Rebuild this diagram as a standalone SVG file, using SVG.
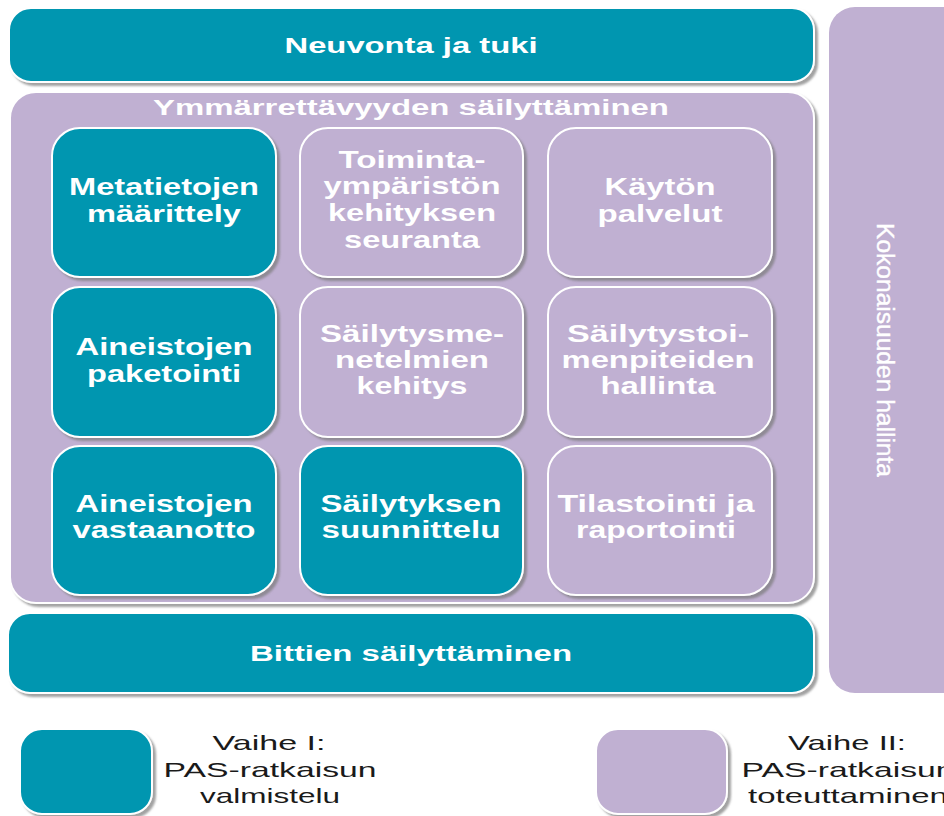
<svg xmlns="http://www.w3.org/2000/svg" width="944" height="816" viewBox="0 0 944 816">
<style>
.teal{fill:#0096B0;stroke:#fff;stroke-width:2}
.purp{fill:#C0B0D2;stroke:#fff;stroke-width:2}
.hd{font-family:"Liberation Sans",Arial,sans-serif;font-weight:bold;font-size:22px;fill:#fff;text-anchor:middle}
.bx{font-family:"Liberation Sans",Arial,sans-serif;font-weight:bold;font-size:24px;fill:#fff;text-anchor:middle}
.side{font-family:"Liberation Sans",Arial,sans-serif;font-size:23px;fill:#fff;stroke:#fff;stroke-width:0.4;text-anchor:middle}
.lg{font-family:"Liberation Sans",Arial,sans-serif;font-size:21px;fill:#1a1a1a;text-anchor:middle}
</style>
<defs>
<filter id="sh" x="-5%" y="-5%" width="115%" height="120%">
<feGaussianBlur in="SourceAlpha" stdDeviation="1.2"/>
<feOffset dx="3" dy="3" result="b"/>
<feFlood flood-color="#7a7a7a" flood-opacity="0.7"/>
<feComposite in2="b" operator="in"/>
<feMerge><feMergeNode/><feMergeNode in="SourceGraphic"/></feMerge>
</filter>
</defs>
<rect width="944" height="816" fill="#fff"/>

<g id="kokonaisuuden-hallinta">
<rect x="829" y="7" width="140" height="686" rx="26" fill="#C0B0D2"/>
<text class="side" transform="translate(877,350) rotate(90)" x="0" y="0" textLength="254" lengthAdjust="spacingAndGlyphs">Kokonaisuuden hallinta</text>
</g>

<g id="neuvonta">
<rect class="teal" filter="url(#sh)" x="9" y="8" width="805" height="74" rx="22"/>
<text class="hd" x="411" y="53" textLength="253" lengthAdjust="spacingAndGlyphs">Neuvonta ja tuki</text>
</g>

<g id="ymmarrettavyys">
<rect class="purp" filter="url(#sh)" x="10" y="92" width="804" height="511" rx="26"/>
<text class="hd" x="411" y="115" textLength="516" lengthAdjust="spacingAndGlyphs">Ymmärrettävyyden säilyttäminen</text>
</g>

<g id="metatietojen">
<rect class="teal" filter="url(#sh)" x="52" y="128" width="224" height="149" rx="28"/>
<text class="bx" x="164" y="195" textLength="190" lengthAdjust="spacingAndGlyphs">Metatietojen</text>
<text class="bx" x="164" y="222" textLength="154" lengthAdjust="spacingAndGlyphs">määrittely</text>
</g>

<g id="toimintaymparisto">
<rect class="purp" filter="url(#sh)" x="300" y="128" width="223" height="149" rx="28"/>
<text class="bx" x="412" y="168" textLength="147" lengthAdjust="spacingAndGlyphs">Toiminta-</text>
<text class="bx" x="412" y="194" textLength="177" lengthAdjust="spacingAndGlyphs">ympäristön</text>
<text class="bx" x="412" y="221" textLength="168" lengthAdjust="spacingAndGlyphs">kehityksen</text>
<text class="bx" x="412" y="248" textLength="136" lengthAdjust="spacingAndGlyphs">seuranta</text>
</g>

<g id="kayton-palvelut">
<rect class="purp" filter="url(#sh)" x="548" y="128" width="224" height="149" rx="28"/>
<text class="bx" x="660" y="195" textLength="111" lengthAdjust="spacingAndGlyphs">Käytön</text>
<text class="bx" x="660" y="222" textLength="125" lengthAdjust="spacingAndGlyphs">palvelut</text>
</g>

<g id="paketointi">
<rect class="teal" filter="url(#sh)" x="52" y="287" width="224" height="150" rx="28"/>
<text class="bx" x="164" y="355" textLength="177" lengthAdjust="spacingAndGlyphs">Aineistojen</text>
<text class="bx" x="164" y="382" textLength="154" lengthAdjust="spacingAndGlyphs">paketointi</text>
</g>

<g id="sailytysmenetelmat">
<rect class="purp" filter="url(#sh)" x="300" y="287" width="223" height="150" rx="28"/>
<text class="bx" x="412" y="342" textLength="184" lengthAdjust="spacingAndGlyphs">Säilytysme-</text>
<text class="bx" x="412" y="368" textLength="154" lengthAdjust="spacingAndGlyphs">netelmien</text>
<text class="bx" x="412" y="394" textLength="111" lengthAdjust="spacingAndGlyphs">kehitys</text>
</g>

<g id="sailytystoimenpiteet">
<rect class="purp" filter="url(#sh)" x="548" y="287" width="224" height="150" rx="28"/>
<text class="bx" x="658" y="342" textLength="182" lengthAdjust="spacingAndGlyphs">Säilytystoi-</text>
<text class="bx" x="658" y="368" textLength="193" lengthAdjust="spacingAndGlyphs">menpiteiden</text>
<text class="bx" x="658" y="394" textLength="115" lengthAdjust="spacingAndGlyphs">hallinta</text>
</g>

<g id="vastaanotto">
<rect class="teal" filter="url(#sh)" x="52" y="446" width="224" height="149" rx="28"/>
<text class="bx" x="164" y="512" textLength="177" lengthAdjust="spacingAndGlyphs">Aineistojen</text>
<text class="bx" x="164" y="538" textLength="183" lengthAdjust="spacingAndGlyphs">vastaanotto</text>
</g>

<g id="suunnittelu">
<rect class="teal" filter="url(#sh)" x="300" y="446" width="223" height="149" rx="28"/>
<text class="bx" x="411" y="512" textLength="181" lengthAdjust="spacingAndGlyphs">Säilytyksen</text>
<text class="bx" x="411" y="538" textLength="179" lengthAdjust="spacingAndGlyphs">suunnittelu</text>
</g>

<g id="tilastointi">
<rect class="purp" filter="url(#sh)" x="548" y="446" width="224" height="149" rx="28"/>
<text class="bx" x="656" y="512" textLength="197" lengthAdjust="spacingAndGlyphs">Tilastointi ja</text>
<text class="bx" x="656" y="538" textLength="160" lengthAdjust="spacingAndGlyphs">raportointi</text>
</g>

<g id="bittien">
<rect class="teal" filter="url(#sh)" x="8" y="613" width="806" height="80" rx="22"/>
<text class="hd" x="411" y="661" textLength="322" lengthAdjust="spacingAndGlyphs">Bittien säilyttäminen</text>
</g>

<g id="legend-vaihe1">
<rect class="teal" filter="url(#sh)" x="20" y="729" width="132" height="85" rx="22"/>
<text class="lg" x="269" y="750" textLength="113" lengthAdjust="spacingAndGlyphs">Vaihe I:</text>
<text class="lg" x="270" y="777" textLength="213" lengthAdjust="spacingAndGlyphs">PAS-ratkaisun</text>
<text class="lg" x="270" y="803" textLength="140" lengthAdjust="spacingAndGlyphs">valmistelu</text>
</g>

<g id="legend-vaihe2">
<rect class="purp" filter="url(#sh)" x="596" y="729" width="131" height="85" rx="22"/>
<text class="lg" x="847" y="750" textLength="118" lengthAdjust="spacingAndGlyphs">Vaihe II:</text>
<text class="lg" x="848" y="777" textLength="213" lengthAdjust="spacingAndGlyphs">PAS-ratkaisun</text>
<text class="lg" x="848" y="803" textLength="200" lengthAdjust="spacingAndGlyphs">toteuttaminen</text>
</g>

<g id="connectors"/>
</svg>
